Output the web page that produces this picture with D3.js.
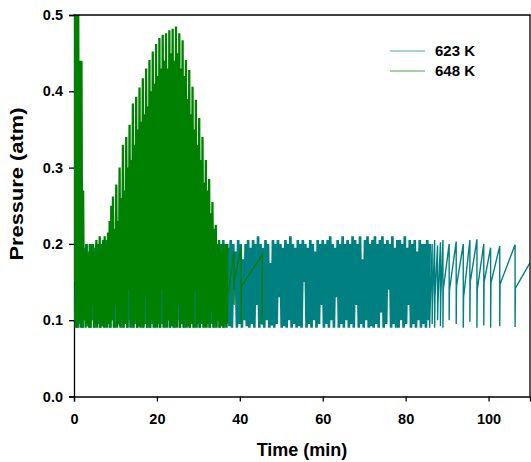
<!DOCTYPE html>
<html><head><meta charset="utf-8">
<script src="https://cdn.jsdelivr.net/npm/d3@7"></script>
<style>
body{margin:0;background:#fff}
svg text{font-family:"Liberation Sans",Arial,Helvetica,sans-serif;font-weight:bold;fill:#000}
</style>
</head><body>
<svg id="chart" width="531" height="462"></svg>
<script>
// ---------- data ----------
const xTicks = [0, 20, 40, 60, 80, 100];
const yTicks = [0, 0.1, 0.2, 0.3, 0.4, 0.5];
const yTickLabels = ["0.0", "0.1", "0.2", "0.3", "0.4", "0.5"];
const seriesNames = ["623 K", "648 K"];
const seriesColors = ["#008080", "#008000"];

// 623 K : samples logged every 0.3 min from 0.3 min (alternating trough / peak)
const tealStart = 0.3, tealStep = 0.3;
const tealDense = [
  0.1,0.175, 0.09,0.19, 0.095,0.2, 0.09,0.195, 0.1,0.2, 0.092,0.19, 0.09,0.2, 0.1,0.195, 0.09,0.2, 0.095,0.19,
  0.09,0.2, 0.1,0.195, 0.09,0.205, 0.095,0.19, 0.09,0.2, 0.1,0.195, 0.09,0.2, 0.095,0.19, 0.092,0.205, 0.09,0.195,
  0.095,0.2, 0.09,0.19, 0.1,0.2, 0.09,0.205, 0.095,0.195, 0.09,0.2, 0.1,0.19, 0.09,0.2, 0.095,0.205, 0.09,0.195,
  0.09,0.2, 0.095,0.195, 0.09,0.2, 0.1,0.19, 0.09,0.205, 0.095,0.2, 0.09,0.195, 0.1,0.2, 0.09,0.19, 0.095,0.2,
  0.09,0.195, 0.1,0.2, 0.09,0.205, 0.095,0.19, 0.09,0.2, 0.1,0.195, 0.09,0.2, 0.095,0.205, 0.09,0.195, 0.1,0.2,
  0.09,0.2, 0.095,0.19, 0.09,0.205, 0.1,0.2, 0.09,0.195, 0.095,0.2, 0.09,0.205, 0.1,0.195, 0.09,0.2, 0.095,0.205,
  0.09,0.2, 0.11,0.195, 0.092,0.205, 0.09,0.2, 0.14,0.19, 0.09,0.205, 0.095,0.2, 0.09,0.18, 0.1,0.2, 0.092,0.205,
  0.09,0.195, 0.095,0.205, 0.09,0.2, 0.12,0.21, 0.09,0.2, 0.095,0.195, 0.09,0.205, 0.1,0.2, 0.09,0.175, 0.093,0.205,
  0.09,0.2, 0.095,0.205, 0.13,0.2, 0.09,0.195, 0.092,0.205, 0.09,0.2, 0.1,0.21, 0.09,0.2, 0.095,0.195, 0.09,0.205,
  0.092,0.2, 0.09,0.205, 0.15,0.2, 0.09,0.195, 0.095,0.205, 0.09,0.2, 0.1,0.19, 0.09,0.205, 0.095,0.2, 0.12,0.205,
  0.09,0.2, 0.095,0.205, 0.09,0.21, 0.1,0.2, 0.09,0.195, 0.13,0.205, 0.09,0.2, 0.095,0.21, 0.09,0.2, 0.1,0.205,
  0.09,0.2, 0.095,0.21, 0.09,0.205, 0.12,0.2, 0.09,0.21, 0.095,0.18, 0.09,0.205, 0.1,0.21, 0.09,0.2, 0.092,0.205,
  0.09,0.21, 0.095,0.2, 0.09,0.205, 0.11,0.21, 0.09,0.2, 0.095,0.205, 0.14,0.2, 0.09,0.21, 0.095,0.195, 0.09,0.205,
  0.09,0.205, 0.1,0.2, 0.09,0.21, 0.095,0.195, 0.12,0.205, 0.09,0.2, 0.095,0.205, 0.09,0.19, 0.1,0.205, 0.09,0.2,
  0.095,0.2, 0.09,0.205, 0.1,0.2
];
// 623 K tail : slow saw-tooth cycles (drop time, value after drop, value after jump, peak at end of cycle)
const tealTailDrop = [85.8, 86.4, 87.0, 87.7, 88.4, 89.0, 90.5, 92.2, 93.9, 95.5, 97.2, 98.85, 100.5, 102.7, 106.4];
const tealTailLow  = [0.09, 0.095, 0.09, 0.1, 0.092, 0.09, 0.1, 0.095, 0.09, 0.098, 0.09, 0.093, 0.09, 0.092, 0.091];
const tealTailJump = [0.11, 0.12, 0.13, 0.12, 0.13, 0.14, 0.14, 0.145, 0.13, 0.15, 0.14, 0.15, 0.149, 0.147, 0.142];
const tealTailPeak = [0.2, 0.205, 0.198, 0.202, 0.205, 0.2, 0.203, 0.2, 0.205, 0.206, 0.2, 0.195, 0.197, 0.199, 0.175];
const tealEnd = 110;

// 648 K : samples logged every 0.2 min from 0 min (alternating trough / peak)
const greenStart = 0, greenStep = 0.2;
const greenDense = [
  0.15,0.56, 0.09,0.56, 0.09,0.56, 0.1,0.44, 0.09,0.44, 0.09,0.27, 0.1,0.19, 0.09,0.2, 0.095,0.185, 0.09,0.2,
  0.09,0.195, 0.12,0.2, 0.09,0.19, 0.095,0.205, 0.09,0.2, 0.1,0.21, 0.09,0.195, 0.092,0.205, 0.09,0.21, 0.095,0.2,
  0.09,0.215, 0.095,0.23, 0.09,0.25, 0.1,0.262, 0.09,0.22, 0.12,0.278, 0.09,0.23, 0.095,0.3, 0.09,0.26, 0.1,0.33,
  0.09,0.27, 0.095,0.34, 0.09,0.3, 0.14,0.356, 0.09,0.31, 0.095,0.384, 0.09,0.33, 0.1,0.393, 0.09,0.35, 0.092,0.405,
  0.09,0.36, 0.095,0.417, 0.09,0.37, 0.13,0.43, 0.09,0.38, 0.095,0.441, 0.09,0.4, 0.1,0.452, 0.09,0.41, 0.092,0.462,
  0.09,0.42, 0.095,0.47, 0.09,0.43, 0.14,0.474, 0.09,0.44, 0.095,0.476, 0.09,0.43, 0.1,0.48, 0.09,0.45, 0.092,0.482,
  0.09,0.44, 0.095,0.485, 0.09,0.45, 0.12,0.476, 0.09,0.43, 0.095,0.467, 0.09,0.42, 0.1,0.441, 0.09,0.39, 0.092,0.428,
  0.09,0.37, 0.095,0.406, 0.09,0.35, 0.14,0.389, 0.09,0.33, 0.095,0.365, 0.09,0.31, 0.1,0.34, 0.09,0.28, 0.092,0.31,
  0.09,0.27, 0.095,0.285, 0.09,0.24, 0.11,0.255, 0.09,0.22, 0.095,0.225, 0.09,0.2, 0.1,0.205, 0.09,0.19, 0.092,0.2,
  0.09,0.195, 0.095,0.2, 0.09,0.2
];
const greenTailDrop = [37.0, 38.6, 40.3, 45.4];
const greenTailLow  = [0.095, 0.12, 0.096, 0.094];
const greenTailJump = [0.13, 0.15, 0.144, null];
const greenTailPeak = [0.19, 0.196, 0.186, null];

// ---------- build point lists ----------
function densePts(start, step, dense) {
  return dense.map((v, i) => [start + i * step, v]);
}
function tailPts(prev, drops, lows, jumps, peaks, endT) {
  const pts = [prev];
  drops.forEach((t, i) => {
    pts.push([t, lows[i]]);
    if (jumps[i] != null) pts.push([t + 0.08, jumps[i]]);
    if (peaks[i] != null) pts.push([i + 1 < drops.length ? drops[i + 1] : endT, peaks[i]]);
  });
  return pts;
}
const tealA = densePts(tealStart, tealStep, tealDense);
const tealB = tailPts(tealA[tealA.length - 1], tealTailDrop, tealTailLow, tealTailJump, tealTailPeak, tealEnd);
const greenA = densePts(greenStart, greenStep, greenDense);
const greenB = tailPts(greenA[greenA.length - 1], greenTailDrop, greenTailLow, greenTailJump, greenTailPeak, 45.4);

// ---------- draw ----------
const svg = d3.select("#chart");
const L = 74, R = 530, T = 15, B = 396.5;
const x = d3.scaleLinear().domain([0, 110]).range([L, R]);
const y = d3.scaleLinear().domain([0, 0.5]).range([B, T]);

svg.append("defs").append("clipPath").attr("id", "clip")
  .append("rect").attr("x", L).attr("y", T).attr("width", R - L).attr("height", B - T);

// left axis (drawn under data)
const yAxis = d3.axisLeft(y).tickValues(yTicks).tickFormat((d, i) => yTickLabels[i]).tickSize(5).tickPadding(6);
const gy = svg.append("g").attr("transform", `translate(${L},0)`).call(yAxis);
gy.select(".domain").attr("stroke", "#000").attr("stroke-width", 1.3);
gy.selectAll(".tick line").attr("stroke", "#000").attr("stroke-width", 1.3);
gy.selectAll(".tick text").attr("font-size", 14.5).attr("font-family", null);

const line = d3.line().x(d => x(d[0])).y(d => y(d[1]));
const dataG = svg.append("g").attr("clip-path", "url(#clip)");
function drawPath(pts, color, w) {
  dataG.append("path").datum(pts).attr("d", line).attr("fill", "none")
    .attr("stroke", color).attr("stroke-width", w).attr("stroke-linejoin", "miter");
}
drawPath(tealA, seriesColors[0], 2.7);
drawPath(tealB, seriesColors[0], 1.4);
drawPath(greenA, seriesColors[1], 2.3);
drawPath(greenB, seriesColors[1], 1.4);

// bottom axis
const xAxis = d3.axisBottom(x).tickValues(xTicks).tickFormat(d3.format("d")).tickSize(5).tickPadding(12);
const gx = svg.append("g").attr("transform", `translate(0,${B})`).call(xAxis);
gx.select(".domain").attr("stroke", "#000").attr("stroke-width", 1.3);
gx.selectAll(".tick line").attr("stroke", "#000").attr("stroke-width", 1.3);
gx.selectAll(".tick text").attr("font-size", 14.5).attr("font-family", null);

// frame top / right
svg.append("line").attr("x1", L - 0.6).attr("x2", R + 0.6).attr("y1", T).attr("y2", T)
  .attr("stroke", "#000").attr("stroke-width", 1.6);
svg.append("line").attr("x1", R).attr("x2", R).attr("y1", T).attr("y2", B)
  .attr("stroke", "#000").attr("stroke-width", 1.3);

// axis titles
svg.append("text").attr("x", (L + R) / 2).attr("y", 456).attr("text-anchor", "middle")
  .attr("font-size", 18).text("Time (min)");
svg.append("text").attr("transform", "translate(23,184) rotate(-90)").attr("text-anchor", "middle")
  .attr("font-size", 18).attr("textLength", 153).attr("lengthAdjust", "spacingAndGlyphs")
  .text("Pressure (atm)");

// legend
const lg = svg.append("g");
seriesNames.forEach((n, i) => {
  const yy = 51 + i * 20;
  lg.append("line").attr("x1", 390).attr("x2", 425).attr("y1", yy).attr("y2", yy)
    .attr("stroke", seriesColors[i]).attr("stroke-width", 1).attr("opacity", 0.7);
  lg.append("text").attr("x", 435).attr("y", yy + 5.3).attr("font-size", 15).text(n);
});
</script>
</body></html>
